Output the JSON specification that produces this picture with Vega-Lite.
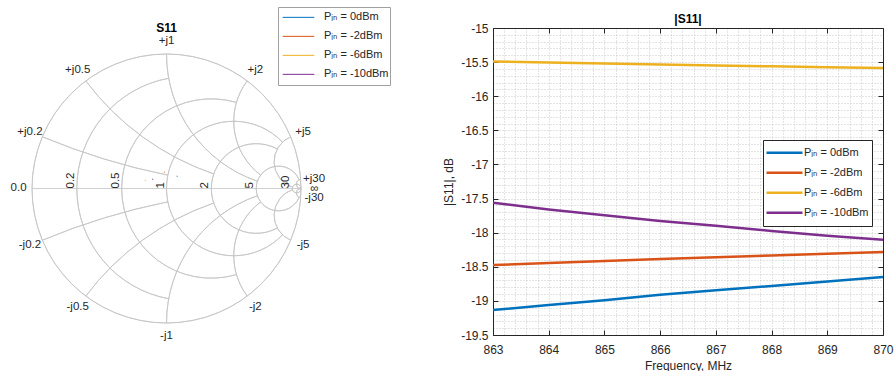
{
  "$schema": "https://vega.github.io/schema/vega-lite/v6.json",
  "padding": {"left": 10, "top": 6, "right": 0, "bottom": 0},
  "bounds": "flush",
  "spacing": 192,
  "config": {
    "view": {"stroke": null},
    "font": "Liberation Sans",
    "axis": {"domainColor": "#262626", "tickColor": "#262626", "labelColor": "#262626", "titleColor": "#262626", "labelFont": "Liberation Sans", "titleFont": "Liberation Sans", "labelFontSize": 12, "titleFontSize": 12, "titleFontWeight": "normal", "domainWidth": 1, "tickWidth": 1, "labelFlush": false},
    "title": {"font": "Liberation Sans", "fontSize": 12, "fontWeight": "bold", "color": "#000000", "anchor": "middle", "frame": "group", "baseline": "alphabetic"}
  },
  "datasets": {
    "s11": [
      {"s": "Pᵢₙ = 0dBm", "f": 863, "db": -19.135}, {"s": "Pᵢₙ = 0dBm", "f": 864, "db": -19.06}, {"s": "Pᵢₙ = 0dBm", "f": 865, "db": -18.99}, {"s": "Pᵢₙ = 0dBm", "f": 866, "db": -18.91}, {"s": "Pᵢₙ = 0dBm", "f": 867, "db": -18.845}, {"s": "Pᵢₙ = 0dBm", "f": 868, "db": -18.78}, {"s": "Pᵢₙ = 0dBm", "f": 869, "db": -18.715}, {"s": "Pᵢₙ = 0dBm", "f": 870, "db": -18.65},
      {"s": "Pᵢₙ = -2dBm", "f": 863, "db": -18.475}, {"s": "Pᵢₙ = -2dBm", "f": 864, "db": -18.445}, {"s": "Pᵢₙ = -2dBm", "f": 865, "db": -18.415}, {"s": "Pᵢₙ = -2dBm", "f": 866, "db": -18.385}, {"s": "Pᵢₙ = -2dBm", "f": 867, "db": -18.36}, {"s": "Pᵢₙ = -2dBm", "f": 868, "db": -18.335}, {"s": "Pᵢₙ = -2dBm", "f": 869, "db": -18.31}, {"s": "Pᵢₙ = -2dBm", "f": 870, "db": -18.285},
      {"s": "Pᵢₙ = -6dBm", "f": 863, "db": -15.49}, {"s": "Pᵢₙ = -6dBm", "f": 864, "db": -15.505}, {"s": "Pᵢₙ = -6dBm", "f": 865, "db": -15.52}, {"s": "Pᵢₙ = -6dBm", "f": 866, "db": -15.535}, {"s": "Pᵢₙ = -6dBm", "f": 867, "db": -15.55}, {"s": "Pᵢₙ = -6dBm", "f": 868, "db": -15.562}, {"s": "Pᵢₙ = -6dBm", "f": 869, "db": -15.574}, {"s": "Pᵢₙ = -6dBm", "f": 870, "db": -15.585},
      {"s": "Pᵢₙ = -10dBm", "f": 863, "db": -17.56}, {"s": "Pᵢₙ = -10dBm", "f": 864, "db": -17.66}, {"s": "Pᵢₙ = -10dBm", "f": 865, "db": -17.745}, {"s": "Pᵢₙ = -10dBm", "f": 866, "db": -17.83}, {"s": "Pᵢₙ = -10dBm", "f": 867, "db": -17.9}, {"s": "Pᵢₙ = -10dBm", "f": 868, "db": -17.975}, {"s": "Pᵢₙ = -10dBm", "f": 869, "db": -18.045}, {"s": "Pᵢₙ = -10dBm", "f": 870, "db": -18.105}
    ],
    "smith": [
      {"s": "Pᵢₙ = 0dBm", "re": 0.076, "im": 0.089}, {"s": "Pᵢₙ = 0dBm", "re": 0.081, "im": 0.092},
      {"s": "Pᵢₙ = -2dBm", "re": -0.019, "im": 0.12}, {"s": "Pᵢₙ = -2dBm", "re": -0.014, "im": 0.122},
      {"s": "Pᵢₙ = -6dBm", "re": -0.161, "im": 0.06}, {"s": "Pᵢₙ = -6dBm", "re": -0.156, "im": 0.063},
      {"s": "Pᵢₙ = -10dBm", "re": -0.105, "im": 0.067}, {"s": "Pᵢₙ = -10dBm", "re": -0.1, "im": 0.071}
    ],
    "arcs": [
      {"cx": 0, "cy": 0, "R": 1, "t1": 0, "t2": 6.28319},
      {"cx": 0.16667, "cy": 0, "R": 0.83333, "t1": 3.32291, "t2": 6.10187},
      {"cx": 0.33333, "cy": 0, "R": 0.66667, "t1": 2.85793, "t2": 6.56685},
      {"cx": 0.5, "cy": 0, "R": 0.5, "t1": 2.33181, "t2": 7.09297},
      {"cx": 0.66667, "cy": 0, "R": 0.33333, "t1": 2.65163, "t2": 6.77315},
      {"cx": 0.83333, "cy": 0, "R": 0.16667, "t1": 1.96558, "t2": 7.4592},
      {"cx": 0.96774, "cy": 0, "R": 0.03226, "t1": 0, "t2": 6.28319},
      {"cx": 1, "cy": 5, "R": 5, "t1": 3.34092, "t2": 3.53638},
      {"cx": 1, "cy": 2, "R": 2, "t1": 3.47188, "t2": 4.06889},
      {"cx": 1, "cy": 1, "R": 1, "t1": 3.47188, "t2": 4.71239},
      {"cx": 1, "cy": 0.5, "R": 0.5, "t1": 3.78509, "t2": 5.35589},
      {"cx": 1, "cy": 0.2, "R": 0.2, "t1": 3.46153, "t2": 5.88841},
      {"cx": 1, "cy": 0.03333, "R": 0.03333, "t1": 3.14159, "t2": 6.21654},
      {"cx": 1, "cy": -5, "R": 5, "t1": -0.39479, "t2": -0.19933},
      {"cx": 1, "cy": -2, "R": 2, "t1": -0.9273, "t2": -0.33029},
      {"cx": 1, "cy": -1, "R": 1, "t1": -1.5708, "t2": -0.33029},
      {"cx": 1, "cy": -0.5, "R": 0.5, "t1": -2.2143, "t2": -0.6435},
      {"cx": 1, "cy": -0.2, "R": 0.2, "t1": -2.74682, "t2": -0.31994},
      {"cx": 1, "cy": -0.03333, "R": 0.03333, "t1": -3.07495, "t2": 0}
    ],
    "plabels": [
      {"lab": "+j0.2", "th": -1.17601}, {"lab": "+j0.5", "th": -0.6435}, {"lab": "+j1", "th": 0}, {"lab": "+j2", "th": 0.6435}, {"lab": "+j5", "th": 1.17601}, {"lab": "+j30", "th": 1.50414}, {"lab": "∞", "th": 1.5708}, {"lab": "-j30", "th": 1.63745}, {"lab": "-j5", "th": 1.96558}, {"lab": "-j2", "th": 2.49809}, {"lab": "-j1", "th": 3.14159}, {"lab": "-j0.5", "th": 3.78509}, {"lab": "-j0.2", "th": 4.3176}, {"lab": "0.0", "th": 4.71239}
    ],
    "rlabels": [
      {"lab": "0.2", "g": -0.66667}, {"lab": "0.5", "g": -0.33333}, {"lab": "1", "g": 0}, {"lab": "2", "g": 0.33333}, {"lab": "5", "g": 0.66667}, {"lab": "30", "g": 0.93548}
    ]
  },
  "resolve": {"scale": {"color": "independent"}},
  "hconcat": [
    {
      "width": 269,
      "height": 321,
      "title": {"text": "S11", "offset": -28},
      "layer": [
        {
          "data": {"name": "arcs"},
          "mark": {"type": "arc", "filled": false, "stroke": "#c4c4c4", "strokeWidth": 0.8},
          "encoding": {
            "x": {"field": "cx", "type": "quantitative", "scale": {"domain": [-1, 1], "nice": false, "zero": false}, "axis": null},
            "y": {"field": "cy", "type": "quantitative", "scale": {"domain": [-1.19331, 1.19331], "nice": false, "zero": false}, "axis": null},
            "radius": {"field": "R", "type": "quantitative", "scale": {"type": "linear", "domain": [0, 1], "range": [0, 134.5], "zero": false, "nice": false}},
            "radius2": {"field": "R"},
            "theta": {"field": "t1", "type": "quantitative", "scale": null, "stack": null},
            "theta2": {"field": "t2"}
          }
        },
        {
          "data": {"values": [{}]},
          "mark": {"type": "rule", "color": "#c4c4c4", "strokeWidth": 0.8},
          "encoding": {
            "x": {"datum": -1, "type": "quantitative", "axis": null},
            "x2": {"datum": 1},
            "y": {"datum": 0, "type": "quantitative", "axis": null}
          }
        },
        {
          "data": {"name": "plabels"},
          "mark": {"type": "text", "fontSize": 11.5, "font": "Liberation Sans", "color": "#262626", "align": "center", "baseline": "middle"},
          "encoding": {
            "x": {"datum": 0, "type": "quantitative", "axis": null},
            "y": {"datum": 0, "type": "quantitative", "axis": null},
            "theta": {"field": "th", "type": "quantitative", "scale": null, "stack": null},
            "radius": {"datum": 1.1, "type": "quantitative"},
            "text": {"field": "lab"}
          }
        },
        {
          "data": {"name": "rlabels"},
          "mark": {"type": "text", "fontSize": 11.5, "font": "Liberation Sans", "color": "#262626", "angle": 270, "align": "left", "baseline": "bottom", "dy": -1},
          "encoding": {
            "x": {"field": "g", "type": "quantitative", "axis": null},
            "y": {"datum": 0, "type": "quantitative", "axis": null},
            "text": {"field": "lab"}
          }
        },
        {
          "data": {"name": "smith"},
          "mark": {"type": "line", "strokeWidth": 1.2},
          "encoding": {
            "x": {"field": "re", "type": "quantitative", "axis": null},
            "y": {"field": "im", "type": "quantitative", "axis": null},
            "color": {
              "field": "s", "type": "nominal",
              "scale": {"domain": ["Pᵢₙ = 0dBm", "Pᵢₙ = -2dBm", "Pᵢₙ = -6dBm", "Pᵢₙ = -10dBm"], "range": ["#0072BD", "#D95319", "#EDB120", "#7E2F8E"]},
              "legend": {"orient": "none", "legendX": 246, "legendY": -21, "title": null, "symbolType": "stroke", "symbolSize": 1000, "symbolStrokeWidth": 1, "symbolOffset": 3, "labelOffset": 9, "clipHeight": 18.7, "rowPadding": 0, "padding": 1, "strokeColor": "#a0a0a0", "fillColor": "#ffffff", "labelFontSize": 11, "labelFont": "Liberation Sans, DejaVu Sans", "labelColor": "#262626"}
            }
          }
        }
      ]
    },
    {
      "width": 390,
      "height": 307,
      "title": {"text": "|S11|", "offset": -4},
      "resolve": {"axis": {"x": "independent", "y": "independent"}},
      "layer": [
        {
          "data": {"name": "s11"},
          "mark": {"type": "line", "opacity": 0},
          "encoding": {
            "x": {"field": "f", "type": "quantitative", "scale": {"domain": [863, 870], "nice": false, "zero": false},
              "axis": {"orient": "bottom", "values": [863, 863.2, 863.4, 863.6, 863.8, 864, 864.2, 864.4, 864.6, 864.8, 865, 865.2, 865.4, 865.6, 865.8, 866, 866.2, 866.4, 866.6, 866.8, 867, 867.2, 867.4, 867.6, 867.8, 868, 868.2, 868.4, 868.6, 868.8, 869, 869.2, 869.4, 869.6, 869.8, 870], "grid": true, "gridDash": [1, 2], "gridColor": "#c8c8c8", "gridWidth": 1, "labels": false, "ticks": false, "domain": false, "title": null}},
            "y": {"field": "db", "type": "quantitative", "scale": {"domain": [-19.5, -15], "nice": false, "zero": false},
              "axis": {"orient": "left", "values": [-19.5, -19.4, -19.3, -19.2, -19.1, -19, -18.9, -18.8, -18.7, -18.6, -18.5, -18.4, -18.3, -18.2, -18.1, -18, -17.9, -17.8, -17.7, -17.6, -17.5, -17.4, -17.3, -17.2, -17.1, -17, -16.9, -16.8, -16.7, -16.6, -16.5, -16.4, -16.3, -16.2, -16.1, -16, -15.9, -15.8, -15.7, -15.6, -15.5, -15.4, -15.3, -15.2, -15.1, -15], "grid": true, "gridDash": [1, 2], "gridColor": "#c8c8c8", "gridWidth": 1, "labels": false, "ticks": false, "domain": false, "title": null}}
          }
        },
        {
          "data": {"name": "s11"},
          "mark": {"type": "line", "strokeWidth": 2.5},
          "encoding": {
            "x": {"field": "f", "type": "quantitative",
              "axis": {"orient": "bottom", "values": [863, 864, 865, 866, 867, 868, 869, 870], "format": "d", "grid": false, "tickSize": -5, "labelPadding": 14, "title": "Frequency, MHz", "titlePadding": 5}},
            "y": {"field": "db", "type": "quantitative",
              "axis": {"orient": "left", "values": [-19.5, -19, -18.5, -18, -17.5, -17, -16.5, -16, -15.5, -15], "labelExpr": "'' + datum.value", "grid": false, "tickSize": -5, "labelPadding": 10, "title": "|S11|, dB", "titlePadding": 5}},
            "color": {
              "field": "s", "type": "nominal",
              "scale": {"domain": ["Pᵢₙ = 0dBm", "Pᵢₙ = -2dBm", "Pᵢₙ = -6dBm", "Pᵢₙ = -10dBm"], "range": ["#0072BD", "#D95319", "#EDB120", "#7E2F8E"]},
              "legend": {"orient": "none", "legendX": 270, "legendY": 112, "title": null, "symbolType": "stroke", "symbolSize": 1296, "symbolStrokeWidth": 2.5, "symbolOffset": -1, "labelOffset": 0, "clipHeight": 19.3, "rowPadding": 0, "padding": 3, "strokeColor": "#262626", "fillColor": "#ffffff", "labelFontSize": 11, "labelFont": "Liberation Sans, DejaVu Sans", "labelColor": "#262626"}
            }
          }
        },
        {
          "data": {"name": "s11"},
          "mark": {"type": "line", "opacity": 0},
          "encoding": {
            "x": {"field": "f", "type": "quantitative", "axis": {"orient": "top", "values": [863, 864, 865, 866, 867, 868, 869, 870], "labels": false, "tickSize": -5, "grid": false, "title": null}},
            "y": {"field": "db", "type": "quantitative", "axis": null}
          }
        },
        {
          "data": {"name": "s11"},
          "mark": {"type": "line", "opacity": 0},
          "encoding": {
            "x": {"field": "f", "type": "quantitative", "axis": null},
            "y": {"field": "db", "type": "quantitative", "axis": {"orient": "right", "values": [-19.5, -19, -18.5, -18, -17.5, -17, -16.5, -16, -15.5, -15], "labels": false, "tickSize": -5, "grid": false, "title": null}}
          }
        }
      ]
    }
  ]
}
